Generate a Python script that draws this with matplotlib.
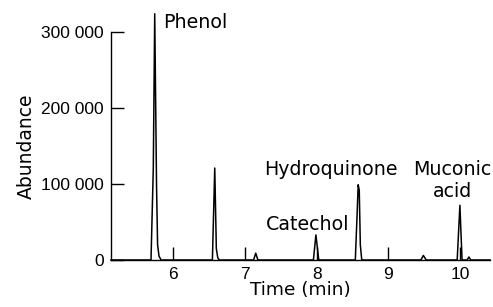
import matplotlib
matplotlib.use("Agg")
import matplotlib.pyplot as plt

plt.rcParams["font.family"] = ["Liberation Sans", "DejaVu Sans"]

# chromatogram trace, points (time in min, abundance)
time_min = [
    5.13, 5.688, 5.72, 5.74, 5.765, 5.78, 5.80, 5.83,
    6.545, 6.578, 6.60, 6.62, 6.64,
    7.12, 7.15, 7.18,
    7.955, 7.99, 8.03,
    8.54, 8.565, 8.58, 8.595, 8.61, 8.63,
    9.455, 9.49, 9.53,
    9.962, 10.0, 10.03,
    10.10, 10.126, 10.15,
    10.42,
]
abundance = [
    0, 0, 120000, 324000, 100000, 20000, 5000, 0,
    0, 121000, 15000, 3000, 0,
    0, 9000, 0,
    0, 33000, 0,
    0, 60000, 99000, 92000, 20000, 0,
    0, 6000, 0,
    0, 72000, 0,
    0, 4000, 0,
    0,
]

x_ticks = [6, 7, 8, 9, 10]
y_ticks = [0, 100000, 200000, 300000]
y_tick_labels = ["0", "100 000", "200 000", "300 000"]

peak_labels = ["Phenol", "Catechol", "Hydroquinone", "Muconic", "acid"]
peak_label_x = [5.86, 7.88, 8.20, 9.89, 9.89]
peak_label_y = [305000, 39500, 111800, 111800, 82500]
peak_label_ha = ["left", "center", "center", "center", "center"]

fig = plt.figure(figsize=(4.93, 3.07), dpi=100)
ax = fig.add_axes([0.2252, 0.1531, 0.7687, 0.7427])

ax.plot(time_min, abundance, color="black", linewidth=1.1, clip_on=False)

ax.set_xlim(5.13, 10.42)
ax.set_ylim(0, 300000)
ax.set_xticks(x_ticks)
ax.set_yticks(y_ticks)
ax.set_yticklabels(y_tick_labels)

for side in ["top", "right"]:
    ax.spines[side].set_visible(False)
for side in ["left", "bottom"]:
    ax.spines[side].set_linewidth(1.0)

ax.tick_params(axis="both", direction="in", length=9.5, width=1.0, labelsize=12.5)
ax.tick_params(axis="x", pad=5)
ax.tick_params(axis="y", pad=5)

ax.set_xlabel("Time (min)", fontsize=13.3, family="DejaVu Sans", labelpad=-1)
ax.set_ylabel("Abundance", fontsize=13.5, family="DejaVu Sans", labelpad=4)

for txt, tx, ty, ha in zip(peak_labels, peak_label_x, peak_label_y, peak_label_ha):
    ax.text(tx, ty, txt, fontsize=13.7, family="DejaVu Sans", ha=ha, va="baseline")

fig.savefig("out.png", dpi=100)
plt.close(fig)
